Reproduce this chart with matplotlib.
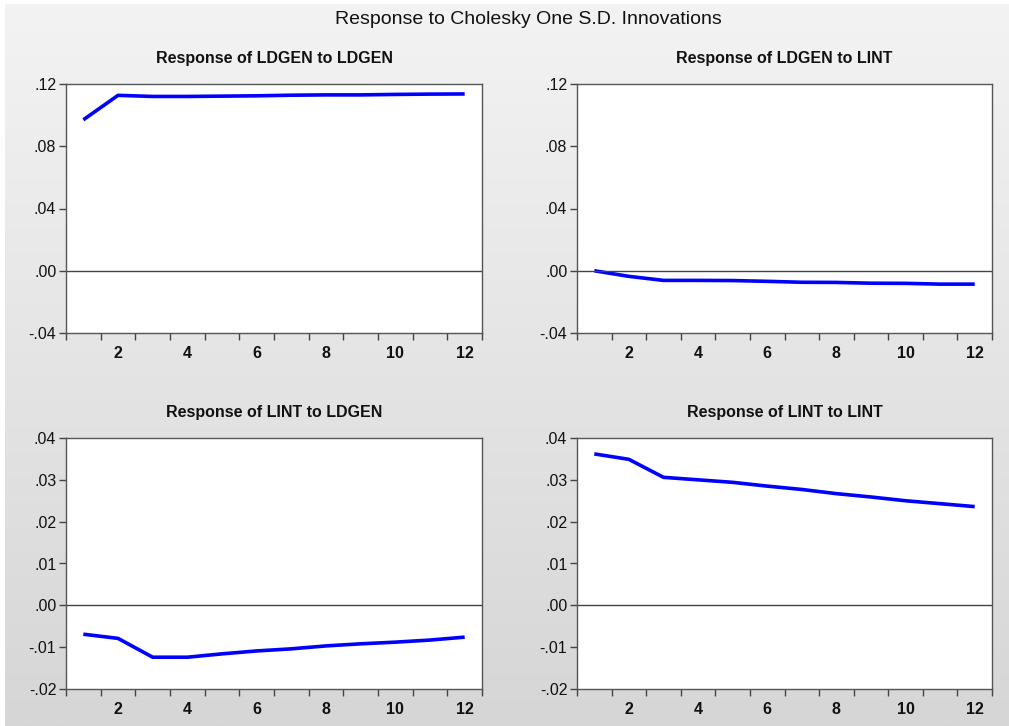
import numpy as np
import matplotlib
matplotlib.use("Agg")
import matplotlib.pyplot as plt
from matplotlib.ticker import FuncFormatter

plt.rcParams['font.family'] = ['Liberation Sans', 'DejaVu Sans']

periods = np.arange(1, 13)

ldgen_ldgen = [0.0970, 0.1127, 0.1120, 0.1120, 0.1122, 0.1124, 0.1128, 0.1130, 0.1130, 0.1133, 0.1135, 0.1136]
ldgen_lint = [0.0000, -0.0036, -0.0062, -0.0062, -0.0063, -0.0068, -0.0074, -0.0075, -0.0080, -0.0081, -0.0086, -0.0086]
lint_ldgen = [-0.0069, -0.0079, -0.0124, -0.0124, -0.0116, -0.0109, -0.0104, -0.0097, -0.0092, -0.0088, -0.0083, -0.0076]
lint_lint = [0.0362, 0.0349, 0.0306, 0.0300, 0.0294, 0.0285, 0.0277, 0.0267, 0.0259, 0.0250, 0.0243, 0.0236]

titles = ["Response of LDGEN to LDGEN", "Response of LDGEN to LINT",
          "Response of LINT to LDGEN", "Response of LINT to LINT"]
series = [ldgen_ldgen, ldgen_lint, lint_ldgen, lint_lint]
ylims = [(-0.04, 0.12), (-0.04, 0.12), (-0.02, 0.04), (-0.02, 0.04)]
ysteps = [0.04, 0.04, 0.01, 0.01]


def fmt(v, pos):
    s = "%.2f" % v
    if s.startswith("-0"):
        return "-" + s[2:]
    if s.startswith("0"):
        return s[1:]
    return s


fig = plt.figure(figsize=(10.09, 7.26), dpi=100)
fig.patch.set_facecolor("white")

# background gradient
bg = fig.add_axes([5 / 1009, 0, 1 - 5 / 1009, 1 - 4 / 726], zorder=-10)
grad = np.linspace(0, 1, 256).reshape(-1, 1)
bg.imshow(grad, aspect="auto", cmap=plt.matplotlib.colors.LinearSegmentedColormap.from_list(
    "g", ["#f3f3f3", "#d6d6d6"]), extent=[0, 1, 0, 1], origin="upper")
bg.axis("off")

W, H = 1009, 726
boxes = [(66, 482, 84, 333), (577, 992, 84, 333),
         (66, 482, 438, 689), (577, 992, 438, 689)]

for (x0, x1, y0, y1), t, s, yl, st in zip(boxes, titles, series, ylims, ysteps):
    ax = fig.add_axes([x0 / W, 1 - y1 / H, (x1 - x0) / W, (y1 - y0) / H])
    ax.set_facecolor("white")
    ax.plot(periods, s, color="#0000ff", lw=2.6, solid_capstyle="butt")
    ax.axhline(0, color="#444444", lw=1.0)
    ax.set_xlim(0.5, 12.5)
    ax.set_ylim(*yl)
    ax.set_yticks(np.arange(yl[0], yl[1] + st / 2, st))
    ax.yaxis.set_major_formatter(FuncFormatter(fmt))
    ax.set_xticks(np.arange(0.5, 12.6, 1.0))
    ax.set_xticklabels([])
    ax.set_xticks(np.arange(2, 13, 2), minor=True)
    ax.set_xticklabels([str(v) for v in range(2, 13, 2)], minor=True,
                       fontsize=11.5, fontweight="bold", color="#111111")
    ax.tick_params(axis="x", which="minor", length=0, pad=9)
    ax.tick_params(axis="x", which="major", length=5, width=1, color="#444444")
    ax.tick_params(axis="y", length=5, width=1, color="#444444", labelsize=11.5,
                   labelcolor="#111111", pad=2)
    for sp in ax.spines.values():
        sp.set_color("#555555")
        sp.set_linewidth(1.0)
    ax.set_title(t, fontsize=11.5, fontweight="bold", pad=15, color="#111111")

fig.text(528 / W, 1 - 20 / H, "Response to Cholesky One S.D. Innovations",
         ha="center", va="center", fontsize=14, color="#111111")

fig.savefig("out.png", dpi=100)
